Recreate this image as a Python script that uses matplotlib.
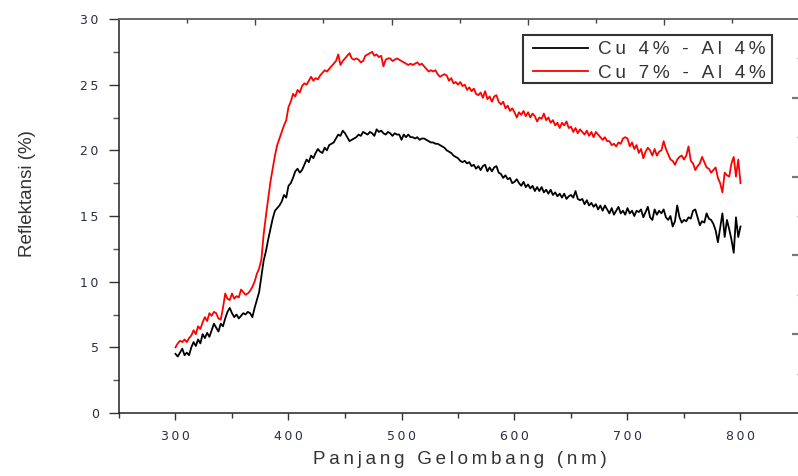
import matplotlib
matplotlib.use("Agg")
import matplotlib.pyplot as plt
import numpy as np
from matplotlib.ticker import MultipleLocator, FixedLocator, NullFormatter
from matplotlib.patches import Rectangle

# ---------------- data ----------------
wl_start, wl_step = 300, 2
cu4_al4 = [
    4.5, 4.3, 4.6, 4.9, 4.4,
    4.6, 4.4, 5.0, 5.4, 5.1,
    5.6, 5.3, 6.0, 5.7, 6.1,
    5.8, 6.3, 6.8, 6.5, 6.2,
    6.8, 6.6, 7.2, 7.7, 8.0,
    7.6, 7.3, 7.5, 7.2, 7.4,
    7.6, 7.5, 7.7, 7.6, 7.3,
    8.0, 8.6, 9.2, 10.4, 11.6,
    12.3, 13.2, 14.0, 14.8, 15.4,
    15.6, 15.8, 16.1, 16.6, 16.4,
    17.3, 17.5, 17.9, 18.4, 18.6,
    18.3, 18.5, 18.9, 19.3, 19.1,
    19.6, 19.4, 19.8, 20.1, 19.9,
    19.8, 20.2, 20.0, 20.4, 20.5,
    20.6, 20.9, 21.2, 21.1, 21.5,
    21.3, 21.0, 20.7, 20.8, 20.9,
    21.0, 21.2, 21.1, 21.4, 21.3,
    21.2, 21.4, 21.3, 21.1, 21.6,
    21.4, 21.5, 21.3, 21.2, 21.4,
    21.3, 21.1, 21.3, 21.2, 21.2,
    20.8, 21.2, 21.0, 21.2, 21.0,
    21.0, 20.9, 21.0, 20.8, 20.9,
    20.9, 20.8, 20.7, 20.6, 20.6,
    20.5, 20.5, 20.4, 20.3, 20.2,
    20.0, 19.9, 19.8, 19.6, 19.5,
    19.4, 19.2, 19.1, 19.2, 19.0,
    19.1, 18.8, 18.9, 18.6, 18.8,
    18.5, 18.8, 18.9, 18.4, 18.7,
    18.4, 18.7, 18.8, 18.3, 18.2,
    17.9, 18.1, 17.8, 17.9, 17.5,
    17.6, 17.8, 17.5, 17.3, 17.6,
    17.2, 17.4, 17.1, 17.3, 16.9,
    17.2, 16.9, 17.2, 16.8, 17.0,
    16.7, 17.0, 16.6, 16.8, 16.5,
    16.7, 16.4, 16.7, 16.3, 16.5,
    16.6, 16.4, 16.9, 16.3, 16.2,
    16.3, 15.9, 16.2, 15.8, 16.0,
    15.7, 15.9, 15.5, 15.8, 15.4,
    15.8, 15.5, 15.2, 15.6, 15.1,
    15.4, 15.7, 15.2, 15.4, 15.1,
    15.6, 15.2, 15.4, 15.0, 15.4,
    15.3, 15.5, 14.9, 15.3, 15.7,
    14.9, 14.7, 15.5, 15.1, 15.4,
    15.2, 15.5, 14.9, 14.7, 15.0,
    14.2, 14.6, 15.8, 14.9, 14.5,
    14.7, 14.6, 14.9, 14.8, 15.4,
    15.5, 14.9, 14.3, 14.6, 14.5,
    15.2, 14.8, 14.7, 14.4, 13.9,
    13.0, 14.1, 15.2, 13.4, 14.7,
    14.0, 13.2, 12.2, 14.9, 13.4,
    14.2,
]
cu7_al4 = [
    5.0, 5.3, 5.5, 5.4, 5.6,
    5.4, 5.7, 5.9, 6.3, 6.0,
    6.6, 6.4, 6.9, 7.3, 7.0,
    7.6, 7.4, 7.7, 7.6, 7.2,
    7.1, 8.0, 9.1, 8.7, 8.6,
    9.1, 8.7, 8.9, 8.8, 9.4,
    9.2, 9.0, 9.1, 9.3, 9.6,
    10.0, 10.6, 11.0, 11.7, 13.6,
    15.0, 16.3, 17.6, 18.6, 19.6,
    20.4, 20.9, 21.4, 21.9, 22.3,
    23.3, 23.7, 24.3, 24.1, 24.6,
    24.4, 24.9, 25.1, 25.0, 25.3,
    25.6, 25.3, 25.5, 25.4, 25.7,
    25.9, 26.1, 26.0, 26.2, 26.4,
    26.6, 26.8, 27.3, 26.5, 26.8,
    27.0, 27.2, 27.4, 27.0, 26.9,
    27.0, 26.9, 26.7, 26.8, 27.2,
    27.3, 27.4, 27.5, 27.2, 27.3,
    27.1, 27.2, 26.4, 26.9, 27.0,
    27.0, 26.8, 26.9, 27.0, 26.9,
    26.8, 26.7, 26.6, 26.5, 26.6,
    26.5, 26.6, 26.7, 26.5, 26.6,
    26.4, 26.2, 26.0, 26.1, 26.0,
    26.1, 25.8, 25.6, 25.7, 25.8,
    25.7, 25.3, 25.5, 25.1, 25.2,
    25.0, 25.2, 24.9, 25.0, 24.6,
    24.8, 24.5, 24.7, 24.3, 24.2,
    24.4, 24.0, 24.5, 23.9, 24.1,
    23.7, 24.1, 24.2, 23.7, 23.5,
    23.7, 23.2, 23.4, 23.0, 23.2,
    22.9, 22.5, 22.9, 22.7, 23.0,
    22.6, 22.9, 22.5, 22.8, 22.6,
    22.2, 22.5, 22.4, 22.8, 22.3,
    22.5, 22.1, 22.3, 21.9, 22.1,
    21.7, 22.1, 21.9, 22.2, 21.7,
    21.8, 21.4, 21.7, 21.3, 21.6,
    21.4, 21.2, 21.5, 21.1, 21.4,
    21.0, 21.4, 21.2, 21.0, 20.8,
    21.0, 20.7, 20.7, 20.4, 20.5,
    20.3, 20.6, 20.5, 20.9, 21.0,
    20.9, 20.3, 20.6, 20.1, 20.4,
    19.8, 20.1, 19.4, 19.9, 20.2,
    20.0, 19.6, 20.1, 19.6, 19.9,
    20.0, 20.7, 20.1, 19.7, 19.3,
    19.2, 18.9, 19.3, 19.5, 19.6,
    19.3, 19.6, 20.3, 19.2, 19.0,
    18.5, 18.8, 19.0, 19.5, 19.1,
    18.7, 18.6, 18.3, 18.5, 18.7,
    17.9, 17.5, 16.8, 18.3, 18.1,
    18.0, 19.0, 19.5, 18.0, 19.3,
    17.5,
]
series_labels = ["Cu 4% - Al 4%", "Cu 7% - Al 4%"]
series_colors = ["#000000", "#ff0000"]
x_ticks = [300, 400, 500, 600, 700, 800]
y_ticks = [0, 5, 10, 15, 20, 25, 30]
x_label = "Panjang Gelombang (nm)"
y_label = "Reflektansi (%)"

wavelength = wl_start + wl_step * np.arange(len(cu4_al4))

THIN = "\u2009"
def spaced(s, gap=THIN):
    return gap.join(s)

tick_color = "#2b2d45"
text_color = "#333333"
sans = ["Liberation Sans", "DejaVu Sans"]

fig = plt.figure(figsize=(7.98, 4.76), dpi=100)
W, H = 798, 476
left_px, right_px, top_px, bot_px = 119, 800.5, 19, 413
ax = fig.add_axes([left_px / W, 1 - bot_px / H, (right_px - left_px) / W, (bot_px - top_px) / H])

for vals, lab, col in zip([cu4_al4, cu7_al4], series_labels, series_colors):
    ax.plot(wavelength, vals, color=col, lw=1.3, label=spaced(lab))

x_max = 250 + (right_px - left_px) / 1.13
ax.set_xlim(250, x_max)
ax.set_ylim(0, 30)

ax.set_xticks(x_ticks)
ax.set_xticklabels([spaced(str(t)) for t in x_ticks], fontfamily=["DejaVu Sans"], fontsize=9, color=tick_color)
ax.xaxis.set_minor_locator(FixedLocator([250, 350, 450, 550, 650, 750]))
ax.set_yticks(y_ticks)
ax.set_yticklabels([spaced(str(t)) for t in y_ticks], fontfamily=["DejaVu Sans"], fontsize=9, color=tick_color)
ax.yaxis.set_minor_locator(MultipleLocator(2.5))

ax.tick_params(axis="y", which="major", direction="out", length=7.5, width=1.0, pad=7, color="#333333")
ax.tick_params(axis="y", which="minor", direction="out", length=4, width=1.0, color="#555555")
ax.tick_params(axis="x", which="major", direction="out", length=5, width=1.0, pad=7, color="#333333")
ax.tick_params(axis="x", which="minor", direction="out", length=3.5, width=1.0, color="#333333")
ax.tick_params(top=False, right=False)

for s in ["left", "bottom"]:
    ax.spines[s].set_color("#222222")
    ax.spines[s].set_linewidth(1.1)
ax.spines["top"].set_color("#666666")
ax.spines["top"].set_linewidth(1.4)
ax.spines["right"].set_visible(False)

# unlabeled secondary axes (top and right) as in the reference
axt = ax.twiny()
axt.set_xlim(0, 1)
axt.xaxis.set_major_locator(FixedLocator([0.2, 0.4, 0.6, 0.8]))
axt.xaxis.set_minor_locator(FixedLocator([0.1, 0.3, 0.5, 0.7, 0.9]))
axt.xaxis.set_major_formatter(NullFormatter())
axt.tick_params(axis="x", which="major", direction="in", length=4, width=1.0, color="#444444")
axt.tick_params(axis="x", which="minor", direction="in", length=3, width=1.0, color="#444444")
for s in ["left", "right", "bottom", "top"]:
    axt.spines[s].set_visible(False)

axr = ax.twinx()
axr.set_ylim(0, 1)
axr.yaxis.set_major_locator(FixedLocator([0.2, 0.4, 0.6, 0.8]))
axr.yaxis.set_minor_locator(FixedLocator([0.1, 0.3, 0.5, 0.7, 0.9]))
axr.yaxis.set_major_formatter(NullFormatter())
axr.tick_params(axis="y", which="major", direction="in", length=6.5, width=1.6, color="#777777")
axr.tick_params(axis="y", which="minor", direction="in", length=3, width=1.0, color="#888888")
for s in ["left", "right", "bottom", "top"]:
    axr.spines[s].set_visible(False)

ax.set_xlabel(spaced(x_label), fontfamily=sans, fontsize=13.5, color=text_color, labelpad=6)
ax.set_ylabel(y_label, fontfamily=sans, fontsize=13.5, color=text_color)
ax.yaxis.set_label_coords(-0.122, 0.558)

# legend: entries without frame, frame drawn as a box around them
leg = axr.legend(*ax.get_legend_handles_labels(), loc="upper left",
                 bbox_to_anchor=(533 / W, 1 - 41 / H), bbox_transform=fig.transFigure,
                 prop={"family": sans, "size": 13.6}, frameon=False,
                 borderpad=0.0, labelspacing=0.33, handlelength=2.9, handletextpad=0.55, borderaxespad=0.0)
for t in leg.get_texts():
    t.set_color(text_color)
fig.patches.append(Rectangle((523 / W, 1 - 83 / H), (772 - 523) / W, (83 - 35) / H,
                             transform=fig.transFigure, fill=False, edgecolor="#333333", lw=1.5, zorder=10))

fig.savefig("out.png", dpi=100)
